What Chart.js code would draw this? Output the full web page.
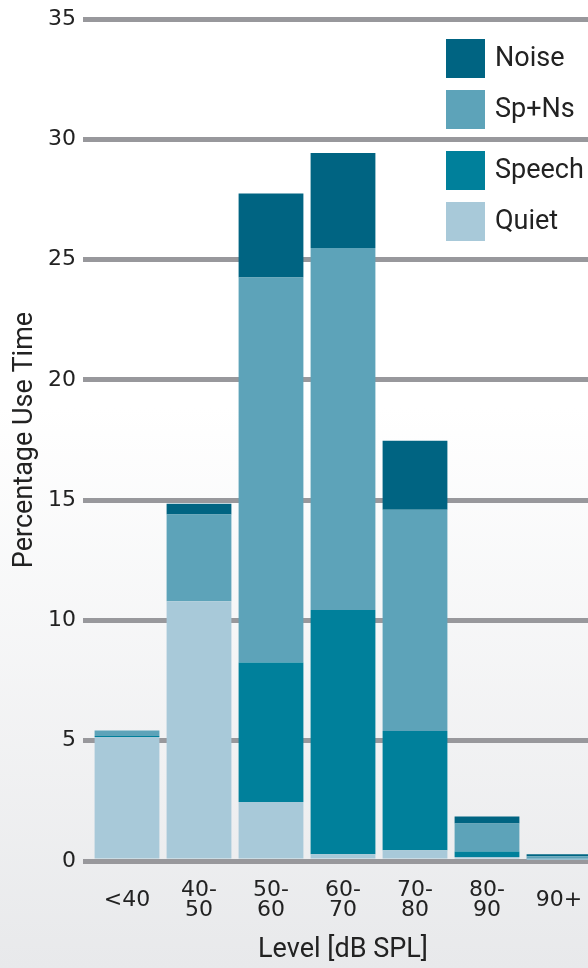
<!DOCTYPE html>
<html>
<head>
<meta charset="utf-8">
<script src="https://cdn.jsdelivr.net/npm/chart.js@4/dist/chart.umd.min.js"></script>
<style>
  html, body { margin: 0; padding: 0; }
  body {
    width: 588px; height: 968px; overflow: hidden;
    background: linear-gradient(to bottom, #ffffff 0%, #ffffff 42%, #e8e9eb 100%);
  }
  canvas { display: block; }
</style>
</head>
<body>
<canvas id="myChart" width="595" height="968"></canvas>
<script>
// level bands (x axis)
const categories = ['<40', ['40-', '50'], ['50-', '60'], ['60-', '70'], ['70-', '80'], ['80-', '90'], '90+'];
// percentage use time per environment, stacked bottom to top
const quiet  = [5.15, 10.8, 2.45, 0.28, 0.45, 0.17, 0.05];
const speech = [0.05, 0,    5.8,  10.15, 4.95, 0.22, 0];
const spNs   = [0.22, 3.6,  16.0, 15.05, 9.2,  1.17, 0.15];
const noise  = [0,    0.45, 3.5,  3.95, 2.87, 0.29, 0.08];
const yTicks = [0, 5, 10, 15, 20, 25, 30, 35];

const seriesNames = ['Quiet', 'Speech', 'Sp+Ns', 'Noise'];
const seriesColors = ['#a8c9d9', '#00809b', '#5da3b9', '#006482'];

const gridGray = '#98989c';

// legend drawn inside the plot, top right, Noise first
const boxLegend = {
    id: 'boxLegend',
    afterDraw(chart, args, opts) {
        const ctx = chart.ctx;
        const sets = chart.data.datasets.slice().reverse();
        ctx.save();
        ctx.font = '27px Roboto, "Noto Sans", sans-serif';
        ctx.textBaseline = 'middle';
        sets.forEach((ds, i) => {
            const y = opts.tops[i];
            ctx.fillStyle = ds.backgroundColor;
            ctx.fillRect(opts.x, y, opts.size, opts.size);
            ctx.fillStyle = '#222';
            ctx.fillText(ds.label, opts.x + opts.size + 10, y + opts.size / 2 + 1);
        });
        ctx.restore();
    }
};

new Chart('myChart', {
    type: 'bar',
    data: {
        labels: categories,
        datasets: [
            { label: seriesNames[0], data: quiet,  backgroundColor: seriesColors[0] },
            { label: seriesNames[1], data: speech, backgroundColor: seriesColors[1] },
            { label: seriesNames[2], data: spNs,   backgroundColor: seriesColors[2] },
            { label: seriesNames[3], data: noise,  backgroundColor: seriesColors[3] }
        ]
    },
    plugins: [boxLegend],
    options: {
        responsive: false,
        animation: false,
        layout: { padding: { top: 19, right: 0, bottom: 0, left: 0 } },
        datasets: { bar: { barPercentage: 0.9, categoryPercentage: 1.0, borderWidth: 0 } },
        plugins: {
            legend: { display: false },
            tooltip: { enabled: false },
            boxLegend: { x: 446, size: 39, tops: [39, 90, 151, 202] }
        },
        scales: {
            x: {
                stacked: true,
                grid: { display: false, drawTicks: false },
                border: { display: false },
                ticks: {
                    color: '#222',
                    padding: 29,
                    maxRotation: 0,
                    autoSkip: false,
                    crossAlign: 'center',
                    font: { family: '"DejaVu Sans", sans-serif', size: 22, lineHeight: 0.92 }
                },
                title: {
                    display: true,
                    text: 'Level [dB SPL]',
                    color: '#222',
                    font: { family: 'Roboto, "Noto Sans", sans-serif', size: 27 },
                    padding: { top: 0, bottom: 2 }
                },
                afterFit(scale) {
                    scale.height = 107;
                    scale.paddingLeft = 0;
                    scale.paddingRight = 0;
                }
            },
            y: {
                stacked: true,
                min: 0,
                max: 35,
                afterBuildTicks(scale) {
                    scale.ticks = yTicks.map(v => ({ value: v }));
                },
                grid: { color: gridGray, lineWidth: 5, tickLength: 8, tickColor: gridGray, tickWidth: 5 },
                border: { display: false },
                ticks: {
                    color: '#222',
                    padding: 7,
                    font: { family: '"DejaVu Sans", sans-serif', size: 22 }
                },
                title: {
                    display: true,
                    text: 'Percentage Use Time',
                    color: '#222',
                    font: { family: 'Roboto, "Noto Sans", sans-serif', size: 27 },
                    padding: { top: 9, bottom: 0 }
                },
                afterFit(scale) {
                    scale.width = 91;
                    scale.paddingTop = 0;
                    scale.paddingBottom = 0;
                }
            }
        }
    }
});
</script>
</body>
</html>
